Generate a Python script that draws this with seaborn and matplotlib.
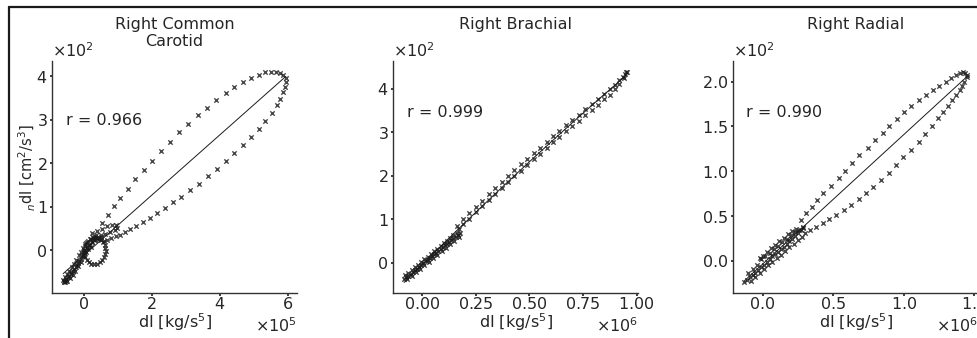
import numpy as np
import matplotlib
matplotlib.use("Agg")
import matplotlib.pyplot as plt
from matplotlib.lines import Line2D
from matplotlib.ticker import MultipleLocator, ScalarFormatter
import seaborn as sns

# ---------------- data (x in units of x_scales, y in units of 1e2) ----------------
titles = ["Right Common\nCarotid", "Right Brachial", "Right Radial"]
r_labels = ["r = 0.966", "r = 0.999", "r = 0.990"]
x_scales = [1e5, 1e6, 1e6]
y_scale = 1e2

# Right Common Carotid
cc_loop_x = [0.54, 0.71, 0.88, 1.08, 1.29, 1.52, 1.76, 2.01, 2.26, 2.53, 2.80, 3.07, 3.35, 3.63,
             3.90, 4.19, 4.43, 4.69, 4.93, 5.16, 5.34, 5.51, 5.65, 5.76, 5.86, 5.93,
             5.94, 5.92, 5.86, 5.78, 5.67, 5.52, 5.34, 5.15, 4.93, 4.69, 4.43, 4.18, 3.92,
             3.65, 3.38, 3.12, 2.87, 2.63, 2.39, 2.16, 1.94, 1.75, 1.55, 1.37, 1.23, 1.08,
             0.94, 0.82, 0.69, 0.59]
cc_loop_y = [0.62, 0.81, 1.01, 1.21, 1.42, 1.63, 1.84, 2.06, 2.28, 2.50, 2.71, 2.91, 3.11, 3.28,
             3.46, 3.62, 3.75, 3.87, 3.96, 4.03, 4.09, 4.11, 4.11, 4.08, 4.02, 3.96,
             3.87, 3.75, 3.63, 3.48, 3.33, 3.16, 2.98, 2.79, 2.61, 2.41, 2.24, 2.05, 1.87,
             1.70, 1.53, 1.38, 1.23, 1.10, 0.98, 0.86, 0.75, 0.66, 0.56, 0.49, 0.42, 0.35,
             0.32, 0.29, 0.24, 0.21]
cc_small_x = [0.25, 0.40, 0.55, 0.69, 0.84, 0.96, 0.99, 0.91, 0.79, 0.64, 0.50, 0.35]
cc_small_y = [0.40, 0.45, 0.50, 0.55, 0.58, 0.57, 0.52, 0.46, 0.42, 0.38, 0.34, 0.31]
cc_circ_x = [0.65, 0.64, 0.62, 0.58, 0.52, 0.45, 0.37, 0.29, 0.21, 0.14, 0.08, 0.04,
             0.02, 0.02, 0.05, 0.09, 0.15, 0.23, 0.31, 0.39, 0.47, 0.54, 0.60, 0.63]
cc_circ_y = [-0.02, 0.06, 0.13, 0.19, 0.24, 0.27, 0.28, 0.28, 0.26, 0.22, 0.16, 0.09,
             0.01, -0.07, -0.15, -0.22, -0.27, -0.31, -0.32, -0.31, -0.28, -0.23, -0.16, -0.09]
cc_tail_x = [-0.58, -0.53, -0.46, -0.38, -0.30, -0.23, -0.17, -0.09, -0.03, 0.03, 0.11, 0.19,
             0.26, 0.35, 0.43, 0.50,
             -0.60, -0.55, -0.49, -0.42, -0.35, -0.28, -0.21, -0.14, -0.08, -0.03, 0.04, 0.11,
             0.19, 0.28, 0.36,
             -0.55, -0.48, -0.40, -0.32, -0.24, -0.16, -0.08, 0.00, 0.07, 0.14, 0.21,
             -0.57, -0.51, -0.44, -0.36, -0.28, -0.20, -0.12, -0.05, 0.02, 0.09, 0.16, 0.24,
             0.32, 0.40]
cc_tail_y = [-0.74, -0.70, -0.62, -0.55, -0.47, -0.39, -0.30, -0.20, -0.10, -0.01, 0.07, 0.12,
             0.18, 0.23, 0.28, 0.31,
             -0.68, -0.62, -0.55, -0.47, -0.39, -0.31, -0.22, -0.12, -0.03, 0.06, 0.14, 0.20,
             0.25, 0.30, 0.34,
             -0.74, -0.70, -0.64, -0.56, -0.47, -0.37, -0.26, -0.13, -0.04, 0.02, 0.08,
             -0.71, -0.66, -0.59, -0.51, -0.43, -0.34, -0.24, -0.14, -0.04, 0.05, 0.12, 0.19,
             0.24, 0.29]

# Right Brachial
br_up_x = [0.16, 0.19, 0.22, 0.25, 0.28, 0.31, 0.34, 0.37, 0.40, 0.43, 0.46, 0.49, 0.52, 0.55,
           0.58, 0.61, 0.64, 0.67, 0.70, 0.73, 0.76, 0.79, 0.82, 0.85, 0.875, 0.90, 0.92,
           0.935, 0.945, 0.952, 0.955]
br_up_y = [0.84, 1.00, 1.14, 1.29, 1.43, 1.57, 1.71, 1.86, 2.00, 2.13, 2.26, 2.39, 2.52, 2.65,
           2.78, 2.91, 3.04, 3.16, 3.28, 3.40, 3.53, 3.65, 3.77, 3.89, 3.99, 4.10, 4.20,
           4.28, 4.34, 4.38, 4.40]
br_lo_x = [0.94, 0.92, 0.90, 0.875, 0.85, 0.82, 0.79, 0.76, 0.73, 0.70, 0.67, 0.64, 0.61, 0.58,
           0.55, 0.52, 0.49, 0.46, 0.43, 0.40, 0.37, 0.34, 0.31, 0.28, 0.25, 0.22, 0.19, 0.17]
br_lo_y = [4.25, 4.12, 4.00, 3.87, 3.76, 3.63, 3.51, 3.39, 3.26, 3.14, 3.02, 2.90, 2.77, 2.64,
           2.51, 2.38, 2.25, 2.12, 1.99, 1.86, 1.72, 1.58, 1.44, 1.30, 1.16, 1.01, 0.88, 0.78]
br_dense_x = [-0.085, -0.075, -0.065, -0.055, -0.045, -0.035, -0.025, -0.015, -0.005, 0.005,
              0.015, 0.025, 0.035, 0.045, 0.055, 0.065, 0.075, 0.085, 0.095, 0.105, 0.115,
              0.125, 0.135, 0.145, 0.155, 0.165, 0.174,
              -0.080, -0.065, -0.050, -0.035, -0.020, -0.005, 0.010, 0.025, 0.040, 0.055,
              0.070, 0.085, 0.100, 0.115, 0.130, 0.145, 0.160,
              -0.070, -0.050, -0.030, -0.010, 0.010, 0.030, 0.050, 0.070, 0.090, 0.110,
              0.130, 0.150, 0.170]
br_dense_y = [-0.38, -0.34, -0.30, -0.26, -0.22, -0.18, -0.14, -0.09, -0.05, -0.01,
              0.03, 0.07, 0.11, 0.15, 0.19, 0.23, 0.28, 0.32, 0.36, 0.40, 0.44,
              0.48, 0.52, 0.56, 0.60, 0.64, 0.68,
              -0.29, -0.23, -0.17, -0.11, -0.05, 0.02, 0.08, 0.14, 0.20, 0.26,
              0.32, 0.38, 0.45, 0.51, 0.57, 0.63, 0.69,
              -0.38, -0.30, -0.22, -0.14, -0.06, 0.02, 0.10, 0.18, 0.26, 0.34,
              0.42, 0.50, 0.60]

# Right Radial
ra_up_x = [0.272, 0.307, 0.347, 0.385, 0.430, 0.484, 0.539, 0.583, 0.633, 0.685, 0.744, 0.796,
           0.850, 0.898, 0.950, 0.999, 1.051, 1.106, 1.158, 1.205, 1.252, 1.299, 1.335, 1.370,
           1.399, 1.422, 1.436, 1.446, 1.446]
ra_up_y = [0.457, 0.532, 0.606, 0.680, 0.755, 0.836, 0.922, 1.004, 1.089, 1.182, 1.264, 1.349,
           1.431, 1.506, 1.587, 1.665, 1.732, 1.796, 1.851, 1.907, 1.952, 2.000, 2.037, 2.074,
           2.100, 2.112, 2.100, 2.074, 2.048]
ra_lo_x = [1.429, 1.413, 1.394, 1.370, 1.342, 1.311, 1.276, 1.240, 1.200, 1.153, 1.106, 1.051,
           0.997, 0.945, 0.893, 0.839, 0.784, 0.732, 0.680, 0.626, 0.574, 0.520, 0.472, 0.425,
           0.378, 0.335, 0.302]
ra_lo_y = [2.000, 1.952, 1.907, 1.851, 1.796, 1.729, 1.665, 1.591, 1.506, 1.416, 1.323, 1.238,
           1.156, 1.071, 0.985, 0.903, 0.822, 0.755, 0.688, 0.625, 0.569, 0.513, 0.465, 0.420,
           0.375, 0.346, 0.309]
ra_dense_x = [-0.13, -0.11, -0.09, -0.07, -0.05, -0.03, -0.01, 0.01, 0.03, 0.05, 0.07, 0.09,
              0.11, 0.13, 0.15, 0.17, 0.19, 0.21, 0.23, 0.25, 0.27, 0.29,
              -0.10, -0.07, -0.04, -0.01, 0.02, 0.05, 0.08, 0.11, 0.14, 0.17, 0.20, 0.23,
              0.26, 0.29,
              -0.08, -0.05, -0.02, 0.01, 0.04, 0.07, 0.10, 0.13, 0.16, 0.19, 0.22, 0.25, 0.28,
              -0.02, 0.00, 0.03, 0.06, 0.09, 0.12, 0.15, 0.18, 0.21, 0.24]
ra_dense_y = [-0.24, -0.21, -0.18, -0.16, -0.13, -0.10, -0.07, -0.04, -0.01, 0.02, 0.05, 0.08,
              0.10, 0.13, 0.16, 0.19, 0.22, 0.25, 0.28, 0.31, 0.34, 0.37,
              -0.13, -0.09, -0.05, 0.02, 0.06, 0.09, 0.13, 0.17, 0.21, 0.25, 0.29, 0.32,
              0.35, 0.38,
              -0.22, -0.18, -0.14, -0.09, -0.05, -0.01, 0.03, 0.07, 0.11, 0.15, 0.19, 0.23, 0.27,
              0.03, 0.05, 0.10, 0.14, 0.18, 0.22, 0.26, 0.30, 0.33, 0.36]

panels_x = [cc_tail_x + cc_circ_x + cc_small_x + cc_loop_x,
            br_dense_x + br_up_x + br_lo_x,
            ra_dense_x + ra_up_x + ra_lo_x]
panels_y = [cc_tail_y + cc_circ_y + cc_small_y + cc_loop_y,
            br_dense_y + br_up_y + br_lo_y,
            ra_dense_y + ra_up_y + ra_lo_y]
fit_orders = [1, 2, 1]

x_majors = [2e5, 0.25e6, 0.5e6]
y_majors = [1e2, 1e2, 0.5e2]
r_pos = [(0.058, 0.745), (0.057, 0.78), (0.053, 0.78)]

# ---------------- style ----------------
sns.set_theme(style="ticks")
plt.rcParams["font.family"] = ["DejaVu Sans"]
plt.rcParams.update({
    "font.size": 11.5,
    "axes.labelsize": 11.5,
    "xtick.labelsize": 11.5,
    "ytick.labelsize": 11.5,
    "xtick.major.size": 1.8,
    "ytick.major.size": 1.8,
    "xtick.major.pad": 0.6,
    "ytick.major.pad": 1.6,
    "axes.linewidth": 1.0,
    "axes.edgecolor": ".2",
    "text.color": ".15",
    "xtick.color": ".15",
    "ytick.color": ".15",
})

fig = plt.figure(figsize=(9.77, 3.38), dpi=100)
lefts = [52, 393, 733]
W, H = 977.0, 338.0
axes = [fig.add_axes([l / W, 45 / H, 245 / W, 232 / H]) for l in lefts]

for i, ax in enumerate(axes):
    xs = np.array(panels_x[i]) * x_scales[i]
    ys = np.array(panels_y[i]) * y_scale
    sns.regplot(x=xs, y=ys, ax=ax, marker="x", ci=None, order=fit_orders[i],
                scatter_kws=dict(s=10, linewidths=1.0, color="k"),
                line_kws=dict(color="k", lw=0.7))
    ax.margins(0.05)
    sns.despine(ax=ax)
    ax.xaxis.set_major_locator(MultipleLocator(x_majors[i]))
    ax.yaxis.set_major_locator(MultipleLocator(y_majors[i]))
    for axis in (ax.xaxis, ax.yaxis):
        fmt = ScalarFormatter(useMathText=True)
        fmt.set_powerlimits((0, 0))
        axis.set_major_formatter(fmt)
    ax.set_xlabel(r"dI [kg/s$^5$]", labelpad=-1)
    ax.text(r_pos[i][0], r_pos[i][1], r_labels[i], transform=ax.transAxes,
            ha="left", va="center", fontsize=11.5)
    ax.set_title(titles[i], y=1.19, va="top", pad=0, fontsize=11.5)

axes[0].set_ylabel(r"$_n$dI [cm$^2$/s$^3$]", fontsize=10.5)
axes[0].yaxis.set_label_coords(-0.058, 0.54)

# figure frame (top and left edges visible in the reference crop)
fig.add_artist(Line2D([8.5 / W, 8.5 / W], [0, 1 - 6.5 / H], transform=fig.transFigure,
                      color="k", lw=1.6))
fig.add_artist(Line2D([8.5 / W, 1], [1 - 6.5 / H, 1 - 6.5 / H], transform=fig.transFigure,
                      color="k", lw=1.6))

fig.savefig("out.png", dpi=100)
